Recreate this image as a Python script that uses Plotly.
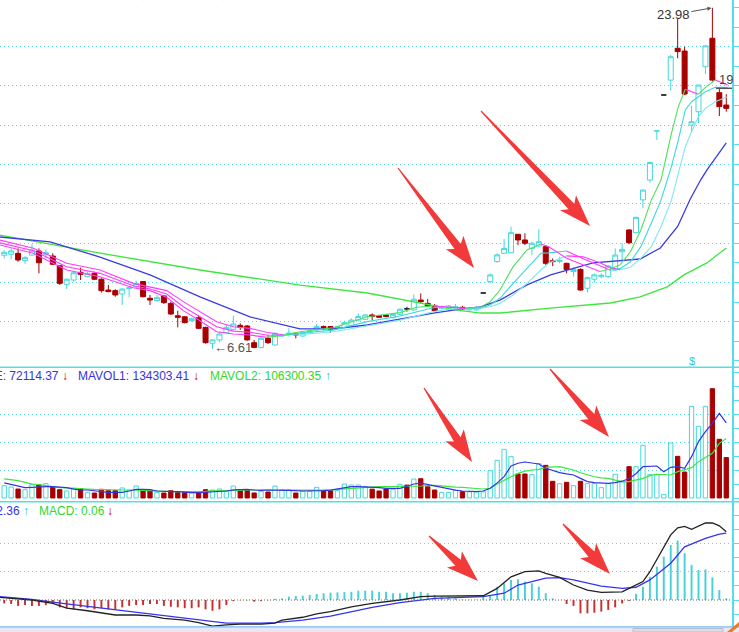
import math
import plotly.graph_objects as go

W, H = 739, 632

# ---------------- data ----------------
opens = [11.38, 11.43, 11.48, 11.11, 11.39, 11.60, 11.43, 11.34, 10.85, 9.90,
         10.12, 10.51, 10.29, 10.46, 10.16, 9.61, 9.58, 9.41, 9.68, 9.78,
         10.04, 9.19, 9.07, 9.31, 8.93, 8.30, 8.25, 8.05, 8.20, 7.71,
         6.90, 7.07, 7.44, 7.61, 7.81, 7.78, 6.93, 6.68, 7.15, 6.81,
         7.27, 7.36, 7.41, 7.27, 7.44, 7.57, 7.75, 7.75, 7.66, 7.70,
         7.78, 8.08, 8.12, 8.34, 8.31, 8.34, 8.20, 8.37, 8.655, 8.60,
         9.10, 8.93, 8.80, 8.68, 8.60, 8.68, 8.73, 8.60, 8.60, 9.46,
         10.04, 11.06, 11.48, 11.51, 12.45, 12.16, 11.73, 11.85, 11.82, 11.10,
         11.07, 10.97, 10.55, 10.66, 9.70, 10.16, 10.29, 10.29, 10.63, 11.56,
         12.67, 12.53, 14.20, 15.21, 17.71, 19.54, 20.30, 21.92, 21.78, 18.01,
         18.69, 20.98, 22.43, 19.66, 19.03]
highs = [11.65, 11.73, 11.73, 11.34, 11.95, 11.73, 11.68, 11.48, 10.89, 10.21,
         10.55, 10.75, 10.55, 10.55, 10.21, 9.87, 9.65, 9.70, 9.78, 10.09,
         10.07, 9.36, 9.36, 9.36, 9.02, 8.56, 8.29, 8.20, 8.34, 7.74,
         7.10, 7.49, 7.83, 8.30, 7.91, 7.83, 7.07, 7.24, 7.32, 7.46,
         7.37, 7.66, 7.44, 7.49, 7.57, 7.88, 7.80, 7.78, 7.78, 8.05,
         8.17, 8.42, 8.39, 8.42, 8.34, 8.37, 8.42, 8.68, 8.76, 9.39,
         9.44, 9.16, 8.90, 8.83, 8.85, 8.90, 8.80, 8.73, 8.80, 9.46,
         10.46, 11.48, 12.21, 12.84, 12.45, 12.50, 12.07, 12.70, 11.90, 11.22,
         11.31, 11.00, 10.77, 10.71, 10.29, 10.46, 10.46, 10.88, 11.73, 11.99,
         12.70, 13.35, 14.74, 16.15, 17.72, 19.54, 21.58, 23.44, 22.00, 18.98,
         20.05, 22.09, 23.98, 19.88, 19.58]
lows = [11.22, 11.17, 11.05, 10.94, 11.36, 10.46, 11.22, 10.89, 9.87, 9.66,
        10.04, 10.12, 10.26, 10.12, 9.48, 9.50, 9.27, 8.85, 9.24, 9.70,
        9.24, 8.85, 9.02, 8.90, 8.34, 7.71, 7.91, 8.00, 7.62, 6.88,
        6.61, 6.95, 7.41, 7.54, 7.58, 7.03, 6.65, 6.65, 6.86, 6.79,
        7.24, 7.24, 7.15, 7.24, 7.41, 7.49, 7.57, 7.44, 7.61, 7.66,
        7.75, 8.05, 8.08, 8.08, 8.20, 8.22, 8.17, 8.34, 8.51, 8.56,
        8.93, 8.76, 8.51, 8.63, 8.56, 8.63, 8.60, 8.56, 8.56, 9.46,
        9.95, 11.00, 11.45, 11.48, 11.90, 11.90, 11.40, 11.82, 10.89, 10.83,
        10.97, 10.46, 10.29, 9.58, 9.48, 9.99, 10.21, 10.21, 10.60, 11.14,
        11.95, 12.50, 13.77, 15.08, 17.25, 19.54, 19.76, 21.41, 19.54, 17.67,
        18.10, 20.61, 20.22, 18.47, 18.69]
closes = [11.53, 11.60, 11.14, 11.26, 11.65, 11.00, 11.51, 10.92, 9.95, 10.16,
          10.49, 10.41, 10.46, 10.16, 9.58, 9.53, 9.36, 9.66, 9.73, 9.95,
          9.27, 9.10, 9.22, 8.97, 8.39, 8.22, 7.95, 8.15, 7.66, 6.93,
          7.07, 7.37, 7.71, 7.88, 7.71, 7.07, 6.69, 7.15, 6.93, 7.41,
          7.32, 7.41, 7.32, 7.44, 7.52, 7.75, 7.70, 7.63, 7.75, 7.95,
          8.08, 8.26, 8.34, 8.26, 8.22, 8.26, 8.37, 8.63, 8.65, 9.14,
          9.02, 8.80, 8.56, 8.76, 8.80, 8.76, 8.65, 8.68, 8.71, 9.46,
          10.38, 11.40, 11.73, 12.53, 12.16, 11.99, 11.99, 12.07, 10.97, 11.06,
          11.11, 10.66, 10.66, 9.61, 10.24, 10.38, 10.36, 10.83, 11.39, 11.68,
          12.02, 13.31, 14.70, 16.10, 17.72, 19.54, 21.49, 21.75, 19.59, 18.18,
          20.05, 22.04, 20.30, 18.95, 18.86]

volumes = [22000, 19600, 16000, 14900, 24400, 23800, 25600, 19600, 14900, 12500,
           17300, 16700, 10100, 8900, 15500, 13100, 13100, 17900, 13700, 21400,
           14900, 13700, 10100, 8900, 13100, 10100, 10700, 9500, 10100, 14900,
           14300, 16100, 11900, 21400, 14000, 14000, 9000, 11900, 10700, 21400,
           14900, 14900, 8900, 11900, 11900, 19000, 13100, 13100, 13100, 25000,
           23200, 23200, 20800, 15800, 12500, 16000, 15500, 24400, 23000, 33900,
           34500, 20200, 14300, 10000, 10000, 13500, 11300, 11000, 11000, 11000,
           48800, 67300, 86900, 73800, 42900, 42900, 41700, 61300, 58300, 29800,
           25600, 28000, 22000, 29800, 25600, 25600, 18500, 25600, 42300, 28600,
           56000, 56000, 94000, 41700, 41700, 6000, 98200, 74400, 46400, 163700,
           128000, 163700, 195200, 104800, 72114]
mavol1 = [27000, 24000, 21000, 18500, 19000, 20200, 20200, 20200, 19500, 18500,
          16000, 14300, 14300, 13000, 11000, 10100, 10100, 10100, 12500, 15500,
          15500, 15000, 12500, 11300, 11300, 11300, 10000, 9500, 9500, 10000,
          11300, 11300, 12500, 14500, 15500, 15500, 14300, 13500, 14300, 14300,
          14300, 14300, 13000, 12500, 12500, 12500, 13000, 14000, 16000, 18400,
          20200, 20200, 20000, 19000, 18500, 17300, 17300, 17300, 21000, 25000,
          26500, 24000, 21400, 19000, 16100, 14000, 12500, 11300, 11300, 12500,
          17300, 27000, 38100, 57100, 62000, 64300, 63000, 60700, 53000, 49000,
          45200, 43000, 41100, 35000, 29200, 27500, 27000, 26200, 27400, 30000,
          34800, 43400, 55900, 57100, 57100, 47000, 54800, 55900, 53000, 73800,
          100600, 118400, 133300, 151200, 134303]
mavol2 = [34000, 32500, 31000, 28000, 25000, 24000, 22000, 19500, 18400, 18000,
          17000, 16500, 16100, 15500, 15000, 14300, 14300, 14300, 14300, 14300,
          13500, 13000, 12500, 11800, 11300, 11300, 11300, 11300, 11300, 12000,
          12900, 12900, 12900, 12900, 13500, 14300, 14300, 14300, 14300, 14300,
          14300, 14000, 13500, 13000, 13000, 13000, 13000, 14000, 15500, 16500,
          17300, 18000, 18400, 20200, 20200, 20200, 20200, 20200, 21000, 21400,
          21400, 22000, 22500, 21500, 20200, 19500, 19000, 18500, 17000, 16100,
          17300, 25000, 32100, 38000, 44000, 48000, 50000, 51200, 54800, 55500,
          55900, 53000, 50000, 45000, 41100, 38000, 36000, 35100, 32000, 29200,
          29200, 32000, 35100, 40000, 42300, 42000, 41100, 47000, 50000, 54200,
          64900, 72000, 79800, 97600, 106300]

macd_hist = [-0.12, -0.14, -0.21, -0.18, -0.21, -0.21, -0.18, -0.14, -0.26, -0.29,
             -0.33, -0.26, -0.29, -0.33, -0.29, -0.33, -0.33, -0.26, -0.21, -0.18,
             -0.18, -0.14, -0.14, -0.21, -0.24, -0.26, -0.29, -0.29, -0.26, -0.33,
             -0.38, -0.33, -0.18, -0.04, -0.01, -0.01, -0.06, -0.04, -0.01, 0.04,
             0.06, 0.12, 0.14, 0.15, 0.18, 0.21, 0.24, 0.26, 0.27, 0.28,
             0.29, 0.33, 0.33, 0.33, 0.29, 0.29, 0.24, 0.24, 0.26, 0.29,
             0.29, 0.24, 0.18, 0.12, 0.12, 0.06, 0.02, 0.01, 0.01, 0.14,
             0.18, 0.47, 0.59, 0.71, 0.73, 0.65, 0.59, 0.47, 0.24, 0.06,
             0.0, -0.14, -0.21, -0.47, -0.47, -0.45, -0.41, -0.35, -0.26, -0.12,
             -0.03, 0.21, 0.47, 0.82, 1.18, 1.53, 1.94, 2.10, 1.65, 1.24,
             1.06, 1.08, 0.80, 0.35, 0.06]

# short moving averages, read at these bar positions
ma_pos = [-0.6, 4.2, 9.0, 13.8, 18.6, 21.0, 23.4, 25.8, 28.2, 30.6,
          33.0, 35.4, 37.8, 40.2, 42.6, 47.4, 52.3, 57.0, 59.4, 61.8,
          64.2, 66.6, 68.6, 70.0, 71.4, 73.3, 75.3, 77.3, 78.5, 81.0,
          83.4, 85.8, 87.3, 88.7, 90.2, 91.7, 93.2, 94.6, 96.1, 97.1,
          98.1, 99.0, 100.0, 101.0, 102.4, 104.2]
ma_fast = [11.90, 11.48, 10.63, 10.29, 9.73, 9.58, 9.24, 8.56, 8.05, 7.49,
           7.37, 7.32, 7.20, 7.30, 7.49, 7.69, 8.25, 8.46, 8.73, 8.80,
           8.73, 8.68, 8.73, 9.02, 9.61, 10.80, 11.65, 11.95, 11.80, 11.23,
           10.89, 10.55, 10.68, 10.89, 11.56, 12.67, 14.19, 15.21, 17.59, 18.95,
           19.83, 19.71, 19.58, 19.93, 20.30, 20.05]
ma_mid = [12.01, 11.61, 10.80, 10.46, 9.83, 9.66, 9.41, 8.76, 8.25, 7.74,
          7.52, 7.46, 7.32, 7.30, 7.41, 7.57, 8.00, 8.29, 8.51, 8.71,
          8.73, 8.68, 8.70, 8.85, 9.19, 9.95, 10.72, 11.48, 11.50, 11.60,
          11.20, 10.85, 10.62, 10.70, 11.05, 11.82, 13.01, 14.19, 15.89, 17.25,
          18.78, 19.20, 19.45, 19.71, 19.93, 19.93]
ma_slow = [12.15, 11.74, 10.97, 10.63, 9.95, 9.78, 9.58, 9.02, 8.51, 8.00,
           7.74, 7.66, 7.46, 7.32, 7.34, 7.49, 7.78, 8.08, 8.29, 8.51,
           8.63, 8.64, 8.68, 8.76, 8.93, 9.36, 9.95, 10.63, 11.00, 11.35,
           11.30, 11.00, 10.75, 10.65, 10.77, 11.23, 11.82, 12.83, 14.19, 15.55,
           16.91, 17.67, 18.44, 18.86, 19.20, 19.45]

ma_blue_pos = [-0.6, 6.6, 13.8, 21, 28.2, 35.4, 42.6, 47.4, 52.3, 57,
               61.8, 65.7, 68.6, 71.4, 75.3, 78.7, 84.8, 91.6, 94.5, 97,
               98.8, 100.3, 101.2, 104]
ma_blue = [12.31, 12.06, 11.29, 10.38, 9.26, 8.24, 7.63, 7.63, 7.83, 8.14,
           8.44, 8.64, 8.75, 9.10, 9.87, 10.38, 10.99, 11.19, 11.75, 12.85,
           14.23, 15.21, 15.72, 17.10]
ma_green_pos = [-0.6, 13.8, 28.2, 42.6, 52.3, 61.8, 65.3, 68.6, 71.4, 78.6,
                87.3, 91.6, 95.5, 97.9, 101.2, 104]
ma_green = [12.41, 11.49, 10.63, 9.86, 9.46, 8.80, 8.59, 8.44, 8.44, 8.69,
            8.95, 9.26, 9.77, 10.38, 10.99, 11.75]

dif_pos = [-0.6, 4, 7, 9, 12, 14, 16, 19, 21, 23, 26, 28, 30, 32, 34, 37, 39, 40, 43, 45,
           47, 50, 53, 57, 60, 62, 66, 69, 71, 73, 75, 77, 78, 80, 82, 84, 86, 89, 90, 92,
           93, 94, 95, 96, 97, 98, 99, 100, 101, 102, 103, 104]
dif = [0.09, 0.0, -0.12, -0.29, -0.38, -0.45, -0.53, -0.53, -0.56, -0.65,
       -0.71, -0.80, -0.92, -0.88, -0.85, -0.85, -0.82, -0.71, -0.61, -0.49,
       -0.41, -0.24, -0.12, 0.0, 0.12, 0.14, 0.14, 0.15, 0.41, 0.82,
       1.0, 1.03, 0.94, 0.80, 0.53, 0.35, 0.27, 0.29, 0.41, 0.65,
       1.0, 1.45, 1.88, 2.30, 2.55, 2.60, 2.50, 2.62, 2.72, 2.72,
       2.62, 2.41]
dea_pos = [-0.6, 4, 9, 14, 19, 23, 28, 32, 37, 39, 43, 47, 53, 57, 62, 69, 72, 74, 78, 80,
           82, 86, 89, 91, 93, 96, 98, 101, 103, 104]
dea = [0.12, 0.02, -0.14, -0.29, -0.45, -0.57, -0.71, -0.82, -0.82, -0.80,
       -0.71, -0.57, -0.26, -0.09, 0.06, 0.12, 0.24, 0.53, 0.77, 0.79,
       0.71, 0.49, 0.41, 0.45, 0.71, 1.30, 1.88, 2.18, 2.33, 2.36]

price_grid = [8, 10, 12, 14, 16, 18, 20, 22]
vol_grid = [50000, 100000, 150000]
macd_grid = [1, 2]

# ---------------- styling ----------------
CYAN = '#44d8dc'
RED = '#a80000'
AXC = '#55dde8'
GRIDC = '#5ad8e4'
MAG = '#ff3cff'
FONT = 'Liberation Sans'

bars = list(range(len(closes)))

# pixel layout of the panels
PLOT_RIGHT = 732.0
PRICE_BOT, VOL_BOT, MACD_BOT = 367.3, 501.7, 627.0
X_LEFT_IDX, X_PX = -0.605, 6.943
x_range = [X_LEFT_IDX, X_LEFT_IDX + PLOT_RIGHT / X_PX]

def pv(y_px):  # price at a pixel row
    return 22 - (y_px - 46.7) / 19.64

def vv(y_px):
    return (498.0 - y_px) * 50000 / 28.0

def mv(y_px):
    return (600.0 - y_px) / 28.3

fig = go.Figure()

# ---- candles ----
flat = [abs(c - o) < 0.008 for o, c in zip(opens, closes)]
norm = [i for i in bars if not flat[i]]
dojis = [i for i in bars if flat[i]]
fig.add_trace(go.Candlestick(
    x=norm, open=[opens[i] for i in norm], high=[highs[i] for i in norm],
    low=[lows[i] for i in norm], close=[closes[i] for i in norm],
    increasing=dict(line=dict(color=CYAN, width=1), fillcolor='white'),
    decreasing=dict(line=dict(color=RED, width=1), fillcolor=RED),
    whiskerwidth=0, xaxis='x', yaxis='y', hoverinfo='skip', showlegend=False))
fig.add_trace(go.Candlestick(
    x=dojis, open=[opens[i] for i in dojis], high=[highs[i] for i in dojis],
    low=[lows[i] for i in dojis], close=[closes[i] for i in dojis],
    increasing=dict(line=dict(color='#222222', width=1), fillcolor='#222222'),
    decreasing=dict(line=dict(color='#222222', width=1), fillcolor='#222222'),
    whiskerwidth=0, xaxis='x', yaxis='y', hoverinfo='skip', showlegend=False))

# ---- long moving averages ----
fig.add_trace(go.Scatter(x=ma_green_pos, y=ma_green, mode='lines',
                         line=dict(color='#3ee63e', width=1.3), xaxis='x', yaxis='y',
                         hoverinfo='skip', showlegend=False))
fig.add_trace(go.Scatter(x=ma_blue_pos, y=ma_blue, mode='lines',
                         line=dict(color='#3c3ce0', width=1.3), xaxis='x', yaxis='y',
                         hoverinfo='skip', showlegend=False))

# ---- short moving averages: magenta while falling ----
def add_ma(pos, vals, up_color):
    runs = []
    for j in range(len(pos) - 1):
        col = MAG if vals[j + 1] < vals[j] else up_color
        if runs and runs[-1][0] == col:
            runs[-1][1].append(j + 1)
        else:
            runs.append([col, [j, j + 1]])
    for col, idx in runs:
        fig.add_trace(go.Scatter(x=[pos[k] for k in idx], y=[vals[k] for k in idx],
                                 mode='lines', line=dict(color=col, width=1.1),
                                 xaxis='x', yaxis='y', hoverinfo='skip', showlegend=False))

add_ma(ma_pos, ma_slow, '#80e8f0')
add_ma(ma_pos, ma_mid, '#3cd8dc')
add_ma(ma_pos, ma_fast, '#4ee05a')

# ---- volume ----
up = [c >= o for o, c in zip(opens, closes)]
fig.add_trace(go.Bar(x=bars, y=volumes, width=0.62,
                     marker=dict(color=['white' if u else RED for u in up],
                                 line=dict(color=[CYAN if u else RED for u in up], width=1)),
                     xaxis='x2', yaxis='y2', hoverinfo='skip', showlegend=False))
fig.add_trace(go.Scatter(x=bars, y=mavol2, mode='lines', line=dict(color='#3ee63e', width=1.2),
                         xaxis='x2', yaxis='y2', hoverinfo='skip', showlegend=False))
fig.add_trace(go.Scatter(x=bars, y=mavol1, mode='lines', line=dict(color='#3434e6', width=1.2),
                         xaxis='x2', yaxis='y2', hoverinfo='skip', showlegend=False))

# ---- MACD ----
fig.add_trace(go.Bar(x=bars, y=macd_hist, width=0.28,
                     marker=dict(color=['#48d0d8' if v >= 0 else '#c83030' for v in macd_hist],
                                 line=dict(width=0)),
                     xaxis='x3', yaxis='y3', hoverinfo='skip', showlegend=False))
fig.add_trace(go.Scatter(x=dea_pos, y=dea, mode='lines', line=dict(color='#3434f0', width=1.3),
                         xaxis='x3', yaxis='y3', hoverinfo='skip', showlegend=False))
fig.add_trace(go.Scatter(x=dif_pos, y=dif, mode='lines', line=dict(color='#222222', width=1.3),
                         xaxis='x3', yaxis='y3', hoverinfo='skip', showlegend=False))

# ---------------- axes ----------------
def xax(anchor, extra=None):
    d = dict(range=x_range, autorange=False, domain=[0, PLOT_RIGHT / W], anchor=anchor,
             showgrid=False, zeroline=False, showticklabels=False, showline=False, ticks='',
             fixedrange=True, automargin=False)
    if extra:
        d.update(extra)
    return d

def yax(dom_top_px, dom_bot_px, rng, grid, minor_dtick, anchor):
    return dict(domain=[1 - dom_bot_px / H, 1 - dom_top_px / H], range=rng, autorange=False,
                anchor=anchor, automargin=False,
                side='right', showline=True, linecolor=AXC, linewidth=1.5,
                ticks='outside', ticklen=5, tickwidth=1, tickcolor=AXC,
                showticklabels=False, tickmode='array', tickvals=grid,
                showgrid=True, gridcolor=GRIDC, gridwidth=1, griddash='1px,3px',
                zeroline=False, fixedrange=True,
                minor=dict(tickmode='linear', tick0=0, dtick=minor_dtick, ticks='outside',
                           ticklen=5, tickwidth=1, tickcolor=AXC, showgrid=False))

fig.update_layout(
    template='none',
    width=W, height=H, margin=dict(l=0, r=0, t=0, b=0, pad=0, autoexpand=False),
    paper_bgcolor='white', plot_bgcolor='white', showlegend=False,
    hovermode=False, boxgap=0.28, boxgroupgap=0,
    xaxis=xax('y', dict(rangeslider=dict(visible=False))),
    xaxis2=xax('y2', dict(matches='x')),
    xaxis3=xax('y3', dict(matches='x')),
    yaxis=yax(0, PRICE_BOT, [pv(PRICE_BOT), pv(0)], price_grid, 1, 'x'),
    yaxis2=yax(PRICE_BOT, VOL_BOT, [vv(VOL_BOT), vv(PRICE_BOT)], vol_grid, 25000, 'x2'),
    yaxis3=yax(VOL_BOT, MACD_BOT, [mv(MACD_BOT), mv(VOL_BOT)], macd_grid, 0.5, 'x3'),
    font=dict(family=FONT),
)

# ---------------- shapes ----------------
shapes = []
def hline_px(y, color=AXC, width=1.5, x0=0, x1=W):
    shapes.append(dict(type='line', xref='paper', yref='paper', x0=x0 / W, x1=x1 / W,
                       y0=1 - y / H, y1=1 - y / H, line=dict(color=color, width=width)))

def px_path(pts):
    return 'M ' + ' L '.join(f'{x / W:.5f},{1 - y / H:.5f}' for x, y in pts) + ' Z'

hline_px(PRICE_BOT)
hline_px(VOL_BOT)
hline_px(MACD_BOT, color='#7fb6e6')
# bottom scroll strip
shapes.append(dict(type='rect', xref='paper', yref='paper', x0=0, x1=1, y0=0, y1=1 - 627.8 / H,
                   fillcolor='#e6e9f3', line=dict(width=0)))
shapes.append(dict(type='rect', xref='paper', yref='paper', x0=633 / W, x1=723 / W, y0=0,
                   y1=1 - 628.5 / H, fillcolor='#d9dde8', line=dict(color='#b8bfcc', width=1)))
shapes.append(dict(type='path', xref='paper', yref='paper',
                   path=px_path([(727, 632), (739, 622), (739, 626), (732, 632)]),
                   fillcolor='#f07828', line=dict(width=0)))
# MACD zero line
shapes.append(dict(type='line', xref='x3', yref='y3', x0=x_range[0], x1=x_range[1], y0=0, y1=0,
                   line=dict(color='#666666', width=1, dash='1px,2px')))
# current price marker
shapes.append(dict(type='line', xref='x', yref='y', x0=102.5, x1=x_range[1], y0=pv(88.3), y1=pv(88.3),
                   line=dict(color='#555555', width=1.5)))

def arrow_shape(tail, tip, head_len=27, head_w=22, neck_w=8, tail_w=1.2, sweep=5):
    (tx, ty), (hx, hy) = tail, tip
    dx, dy = hx - tx, hy - ty
    L = math.hypot(dx, dy)
    ux, uy = dx / L, dy / L
    nx, ny = -uy, ux
    bx, by = hx - ux * head_len, hy - uy * head_len
    pts = [
        (tx + nx * tail_w / 2, ty + ny * tail_w / 2),
        (bx + nx * neck_w / 2, by + ny * neck_w / 2),
        (bx + nx * head_w / 2 - ux * sweep, by + ny * head_w / 2 - uy * sweep),
        (hx, hy),
        (bx - nx * head_w / 2 - ux * sweep, by - ny * head_w / 2 - uy * sweep),
        (bx - nx * neck_w / 2, by - ny * neck_w / 2),
        (tx - nx * tail_w / 2, ty - ny * tail_w / 2),
    ]
    return dict(type='path', xref='paper', yref='paper', path=px_path(pts),
                fillcolor='#f23a3a', line=dict(width=0), layer='above')

for tail, tip in [((398, 168), (474, 268)), ((481, 111), (590, 226)),
                  ((424, 388), (472, 462)), ((550, 369), (609, 437)),
                  ((429, 536), (478, 581)), ((563, 524), (610, 574))]:
    shapes.append(arrow_shape(tail, tip))

fig.update_layout(shapes=shapes)

# ---------------- annotations ----------------
ann = []
def txt(x_px, y_px, text, color, size=12, xanchor='left', yanchor='middle'):
    ann.append(dict(xref='paper', yref='paper', x=x_px / W, y=1 - y_px / H, text=text,
                    showarrow=False, xanchor=xanchor, yanchor=yanchor,
                    font=dict(family=FONT, size=size, color=color), borderpad=0))

# volume header
txt(60, 376, 'VOLUME: 72114.37', '#3434e0', xanchor='right')
txt(61, 376, '↓', '#c00000')
txt(77, 376, 'MAVOL1: 134303.41', '#3434e0')
txt(192, 376, '↓', '#c00000')
txt(209, 376, 'MAVOL2: 106300.35', '#2ed82e')
txt(324, 376, '↑', '#10c8d8')
# MACD header
txt(21, 511, 'DEA: 2.36', '#3434e0', xanchor='right')
txt(22, 511, '↑', '#10c8d8')
txt(38, 511, 'MACD: 0.06', '#2ed82e')
txt(106, 511, '↓', '#c00000')
# price header (only the lowest pixels of it are inside the picture)
for x, s, col, xa in [(55, 'MA1: 20.05', '#4ee05a', 'right'), (57, '↓', '#c00000', 'left'),
                      (70, 'MA2: 19.93', '#3cd8dc', 'left'), (138, '↓', '#c00000', 'left'),
                      (152, 'MA3: 19.4', '#3cd8dc', 'left'), (219, '↑', '#10c8d8', 'left'),
                      (232, '17.10', '#ff3cff', 'left'), (273, '↓', '#c00000', 'left'),
                      (288, '11.7', '#ff3cff', 'left'), (329, '↓', '#c00000', 'left'),
                      (370, 'MA6: 17.1', '#3434e0', 'left'), (425, '11.75', '#7a7aff', 'left'),
                      (475, 'MA8: 11.75', '#3ee63e', 'left')]:
    txt(x, 4.2, s, col, xanchor=xa, yanchor='bottom')

# extreme price labels
ann.append(dict(xref='x', yref='y', x=102, y=23.98, ax=-39, ay=7, text='23.98', showarrow=True,
                arrowhead=2, arrowsize=0.8, arrowwidth=1, arrowcolor='#555555', standoff=1,
                font=dict(family=FONT, size=13, color='#333333')))
ann.append(dict(xref='x', yref='y', x=30, y=6.61, text='←6.61', showarrow=False,
                xanchor='left', yanchor='middle', yshift=1,
                font=dict(family=FONT, size=13, color='#555555')))
ann.append(dict(xref='x', yref='y', x=102.7, y=pv(79), text='19', showarrow=False,
                xanchor='left', yanchor='middle', font=dict(family=FONT, size=13, color='#444444')))
txt(692, 361, '$', '#30c8d8', size=11, xanchor='center')

fig.update_layout(annotations=ann)

# the page is photographed at exactly the figure size: no body margin, no mode bar
fig.write_html('out.html', config={'displayModeBar': False, 'staticPlot': True},
               post_script="document.body.style.margin='0px';document.body.style.padding='0px';")
